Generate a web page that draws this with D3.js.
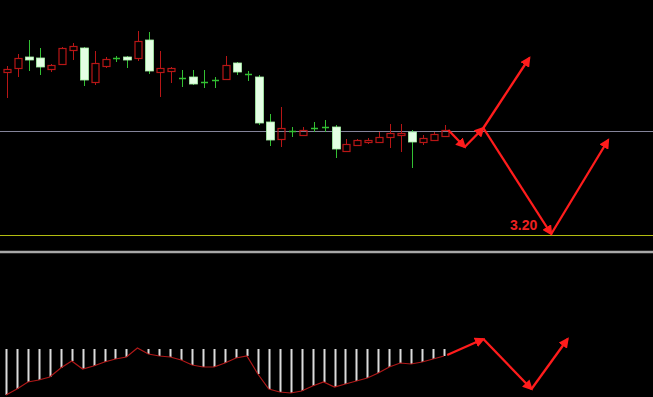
<!DOCTYPE html>
<html>
<head>
<meta charset="utf-8">
<script src="https://cdn.jsdelivr.net/npm/d3@7"></script>
<style>
  html, body { margin: 0; padding: 0; background: #000; }
  svg { display: block; }
</style>
</head>
<body>
<div id="chart"></div>
<script>
var width = 653, height = 397;

// daily candles
var opens  = [3.526,3.534,3.556,3.554,3.532,3.542,3.570,3.574,3.506,3.538,3.554,3.556,3.554,3.590,3.526,3.528,3.514,3.516,3.506,3.510,3.512,3.544,3.522,3.516,3.426,3.392,3.408,3.400,3.414,3.416,3.416,3.368,3.380,3.386,3.386,3.396,3.400,3.406,3.386,3.390,3.398];
var highs  = [3.538,3.562,3.590,3.574,3.542,3.576,3.584,3.576,3.568,3.556,3.558,3.558,3.608,3.606,3.568,3.536,3.530,3.530,3.530,3.516,3.558,3.546,3.528,3.520,3.442,3.456,3.416,3.416,3.426,3.430,3.420,3.392,3.392,3.394,3.406,3.422,3.422,3.410,3.400,3.406,3.420];
var lows   = [3.474,3.516,3.528,3.520,3.526,3.540,3.550,3.498,3.500,3.534,3.546,3.534,3.548,3.522,3.476,3.504,3.496,3.500,3.494,3.494,3.510,3.520,3.508,3.420,3.378,3.376,3.396,3.398,3.406,3.406,3.354,3.366,3.378,3.382,3.384,3.374,3.366,3.334,3.380,3.390,3.398];
var closes = [3.532,3.554,3.550,3.536,3.540,3.574,3.578,3.510,3.544,3.552,3.553,3.550,3.588,3.528,3.534,3.534,3.513,3.502,3.505,3.509,3.540,3.526,3.521,3.424,3.390,3.414,3.407,3.410,3.413,3.415,3.372,3.382,3.390,3.390,3.396,3.404,3.404,3.386,3.394,3.402,3.410];

// indicator (lower panel)
var indicator = [-0.46,-0.40,-0.33,-0.31,-0.28,-0.19,-0.12,-0.20,-0.17,-0.13,-0.10,-0.08,0.01,-0.05,-0.07,-0.08,-0.11,-0.16,-0.18,-0.18,-0.14,-0.09,-0.07,-0.25,-0.40,-0.43,-0.44,-0.42,-0.37,-0.33,-0.38,-0.35,-0.32,-0.29,-0.24,-0.18,-0.14,-0.15,-0.13,-0.10,-0.07];

// reference levels: grey line, yellow target line
var refLevels = [3.408, 3.20];
var targetLabel = "3.20";

// forecast zigzag (index, price)
var fcIdx   = [40.3, 41.8, 43.5, 49.7, 54.9];
var fcPrice = [3.410, 3.376, 3.414, 3.202, 3.390];
var fcBranchIdx   = [43.5, 47.7];
var fcBranchPrice = [3.414, 3.554];

// forecast in indicator panel
var fcIndIdx = [40.2, 43.5, 47.9, 51.2];
var fcIndVal = [-0.06, 0.10, -0.40, 0.10];

var x = d3.scaleLinear().domain([0, 60]).range([7, 664]);
var y = d3.scaleLinear().domain([3.20, 3.40]).range([235, 135]);
var yInd = d3.scaleLinear().domain([0, -0.5]).range([349, 399]);

var svg = d3.select("#chart").append("svg")
    .attr("width", width)
    .attr("height", height)
    .style("background", "#000");

var defs = svg.append("defs");
defs.append("marker")
    .attr("id", "arrow")
    .attr("viewBox", "0 0 10 10")
    .attr("refX", 8).attr("refY", 5)
    .attr("markerWidth", 4.5).attr("markerHeight", 4.5)
    .attr("orient", "auto")
    .append("path")
    .attr("d", "M0,0L10,5L0,10z")
    .attr("fill", "#ff1c1c");

// horizontal lines
svg.append("line")
    .attr("x1", 0).attr("x2", width)
    .attr("y1", Math.round(y(refLevels[0])) + 0.5).attr("y2", Math.round(y(refLevels[0])) + 0.5)
    .attr("stroke", "#84849a").attr("stroke-width", 1);
svg.append("line")
    .attr("x1", 0).attr("x2", width)
    .attr("y1", Math.round(y(refLevels[1])) + 0.5).attr("y2", Math.round(y(refLevels[1])) + 0.5)
    .attr("stroke", "#b2bc10").attr("stroke-width", 1);
// panel separator
svg.append("line")
    .attr("x1", 0).attr("x2", width)
    .attr("y1", 252).attr("y2", 252)
    .attr("stroke", "#a8a8a8").attr("stroke-width", 2.5);

// candles
var candles = d3.range(opens.length).map(function (i) {
    return { i: i, o: opens[i], h: highs[i], l: lows[i], c: closes[i] };
});

var g = svg.append("g").attr("class", "candles");
var bw = 7;
var red = "#b81616";

candles.forEach(function (d) {
    var cx = Math.round(x(d.i)) + 0.5;
    var up = d.c > d.o;
    var doji = Math.abs(d.c - d.o) < 0.0025;
    var top = y(Math.max(d.o, d.c)), bot = y(Math.min(d.o, d.c));
    if (doji) {
        var col = up ? red : "#33c033";
        g.append("line").attr("x1", cx).attr("x2", cx)
            .attr("y1", y(d.h)).attr("y2", y(d.l))
            .attr("stroke", col).attr("stroke-width", 1);
        var yy = Math.round(y((d.o + d.c) / 2)) + 0.5;
        g.append("line").attr("x1", cx - bw / 2).attr("x2", cx + bw / 2)
            .attr("y1", yy).attr("y2", yy)
            .attr("stroke", col).attr("stroke-width", 1.5);
    } else if (up) {
        g.append("line").attr("x1", cx).attr("x2", cx)
            .attr("y1", y(d.h)).attr("y2", top)
            .attr("stroke", red);
        g.append("line").attr("x1", cx).attr("x2", cx)
            .attr("y1", bot).attr("y2", y(d.l))
            .attr("stroke", red);
        g.append("rect")
            .attr("x", cx - 3.5).attr("y", Math.round(top) + 0.5)
            .attr("width", bw).attr("height", Math.max(1, Math.round(bot - top)))
            .attr("fill", "none").attr("stroke", red).attr("stroke-width", 1.2);
    } else {
        g.append("line").attr("x1", cx).attr("x2", cx)
            .attr("y1", y(d.h)).attr("y2", y(d.l))
            .attr("stroke", "#33c033");
        g.append("rect")
            .attr("x", cx - 4).attr("y", top)
            .attr("width", bw + 1).attr("height", bot - top)
            .attr("fill", "#e4ffe4").attr("stroke", "#a6f0a6").attr("stroke-width", 0.8);
    }
});

// forecast zigzag
var fcLine = function (xs, ps, ys) {
    return d3.range(xs.length - 1).map(function (k) {
        return [[x(xs[k]), ys(ps[k])], [x(xs[k + 1]), ys(ps[k + 1])]];
    });
};

var fc = svg.append("g").attr("class", "forecast");
fcLine(fcIdx, fcPrice, y).concat(fcLine(fcBranchIdx, fcBranchPrice, y)).forEach(function (s) {
    fc.append("path")
        .attr("d", d3.line()(s))
        .attr("fill", "none")
        .attr("stroke", "#ff1c1c")
        .attr("stroke-width", 2.3)
        .attr("marker-end", "url(#arrow)");
});

fc.append("text")
    .attr("x", x(fcIdx[3]) - 14)
    .attr("y", 230)
    .attr("text-anchor", "end")
    .style("font-family", "Liberation Sans, Arial, sans-serif")
    .style("font-weight", "bold")
    .style("font-size", "14px")
    .attr("fill", "#ee2020")
    .text(targetLabel);

// indicator panel
var ind = svg.append("g").attr("class", "indicator");
indicator.forEach(function (v, i) {
    if (v >= 0) return;
    var cx = Math.round(x(i)) - 0.5;
    ind.append("line")
        .attr("x1", cx).attr("x2", cx)
        .attr("y1", yInd(0)).attr("y2", yInd(v))
        .attr("stroke", "#dcdcdc").attr("stroke-width", 2);
});

ind.append("path")
    .attr("d", d3.line()
        .x(function (v, i) { return x(i) - 1; })
        .y(function (v) { return yInd(v); })(indicator))
    .attr("fill", "none")
    .attr("stroke", "#b01818")
    .attr("stroke-width", 1.2);

fcLine(fcIndIdx, fcIndVal, yInd).forEach(function (s) {
    ind.append("path")
        .attr("d", d3.line()(s))
        .attr("fill", "none")
        .attr("stroke", "#ff1c1c")
        .attr("stroke-width", 2.3)
        .attr("marker-end", "url(#arrow)");
});
</script>
</body>
</html>
